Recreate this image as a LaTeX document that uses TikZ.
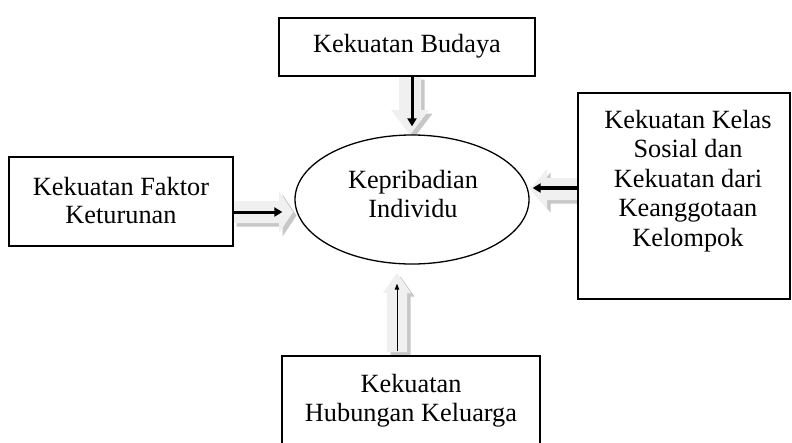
\documentclass[tikz,border=0pt]{standalone}
\usepackage{fontspec}
\setmainfont{Liberation Serif}
\usetikzlibrary{arrows.meta,calc,shapes.geometric}
\pgfdeclarelayer{bg}
\pgfsetlayers{bg,main}
\definecolor{arrfill}{gray}{0.94}
\definecolor{arrshadow}{gray}{0.78}
% hollow block arrow with a drop shadow:
% #1 start, #2 angle, #3 length, #4 shaft half width, #5 head half width, #6 head length
\newcommand\blkarrow[6]{%
  \fill[arrshadow, shift={#1}, shift={(3.5,-3.5)}, rotate=#2]
    (0,-#4) -- ({#3-#6},-#4) -- ({#3-#6},-#5) -- (#3,0) -- ({#3-#6},#5) -- ({#3-#6},#4) -- (0,#4) -- cycle;
  \fill[arrfill, shift={#1}, rotate=#2]
    (0,-#4) -- ({#3-#6},-#4) -- ({#3-#6},-#5) -- (#3,0) -- ({#3-#6},#5) -- ({#3-#6},#4) -- (0,#4) -- cycle;
}
\tikzset{
  box/.style={draw, line width=1.3pt, fill=white, inner sep=0pt},
  oval/.style={draw, ellipse, line width=1.3pt, fill=white, inner sep=0pt},
  label/.style={align=center, inner sep=0pt, anchor=north,
    font=\fontsize{26.3}{29.5}\selectfont},
  heavy/.style={line width=3pt, -{Triangle[length=8pt,width=9pt]}},
  fine/.style={line width=1pt, -{Triangle[length=6pt,width=4.5pt]}}
}
\begin{document}
\begin{tikzpicture}[x=1pt,y=1pt]
\clip (0,0) rectangle (792,-442);
\useasboundingbox (0,0) rectangle (792,-442);

% shapes
\node[box, minimum width=256pt, minimum height=58pt] (budaya) at (407,-47) {};
\node[box, minimum width=224pt, minimum height=89pt] (faktor) at (121,-201.5) {};
\node[box, minimum width=212pt, minimum height=206pt] (kelas) at (684,-196) {};
\node[box, minimum width=258pt, minimum height=120pt] (keluarga) at (411,-416) {};
\node[oval, minimum width=234pt, minimum height=129pt] (ind) at (412,-199.5) {};

% texts
\node[label, anchor=base] (tbudaya) at (407,-52) {Kekuatan Budaya};
\node[label, font=\fontsize{26.3}{28}\selectfont] (tfaktor) at (121,-177) {Kekuatan Faktor\\Keturunan};
\node[label] (tkelas) at (688,-110) {Kekuatan Kelas\\Sosial dan\\Kekuatan dari\\Keanggotaan\\Kelompok};
\node[label] (tkeluarga) at (411,-374) {Kekuatan\\Hubungan Keluarga};
\node[label] (tind) at (413,-170) {Kepribadian\\Individu};

% block arrows behind the shapes
\begin{pgfonlayer}{bg}
  \blkarrow{(410,-76)}{-90}{59}{11}{19}{25}
  \blkarrow{(233,-212)}{0}{60}{11}{21}{14}
  \blkarrow{(578,-189)}{180}{48}{11}{20}{17}
  \blkarrow{(397,-352)}{90}{79}{10}{14}{20}
\end{pgfonlayer}

% connectors
\coordinate (lfoot) at ($(faktor.east)+(0,-10.5)$);
\coordinate (rfoot) at ($(kelas.west)+(0,8)$);
\coordinate (bfoot) at ($(keluarga.north)+(-14,4)$);
\draw[heavy, shorten >=8pt] (budaya.south -| ind.north) -- (ind.north);
\draw[heavy, shorten >=12pt] (lfoot) -- (lfoot -| ind.west);
\draw[heavy, line width=3.5pt, shorten >=3pt] (rfoot) -- (rfoot -| ind.east);
\draw[fine, shorten >=19pt] (bfoot) -- (bfoot |- ind.south);
\end{tikzpicture}
\end{document}
